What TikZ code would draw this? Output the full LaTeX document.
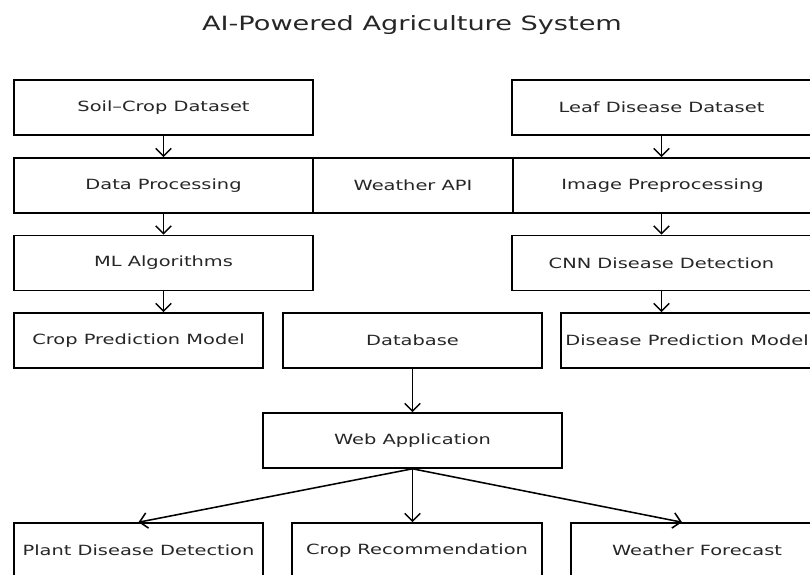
\documentclass[tikz,border=0pt]{standalone}
\usepackage{fontspec}
\setmainfont[FakeStretch=1.38]{DejaVu Sans}
\usetikzlibrary{arrows.meta}

\begin{document}
\begin{tikzpicture}[x=0.025cm, y=-0.025cm,
    box/.style={draw, line width=1.1pt, minimum height=1.375cm, inner sep=0pt,
        font=\fontsize{10}{12}\selectfont, text=black!85},
    arr/.style={-{Straight Barb[length=5.5pt,width=11pt]}, line width=1.1pt}]
    \clip (0,0) rectangle (810,574);
    \node[text=black!85] (title) at (412,25) {\fontsize{14}{17}\selectfont AI-Powered Agriculture System};

    % crop branch
    \node[box, minimum width=7.475cm] (soil) at (163.5,107.5) {Soil–Crop Dataset};
    \node[box, minimum width=7.475cm] (dataproc) at (163.5,185.5) {Data Processing};
    \node[box, minimum width=7.475cm] (ml) at (163.5,263) {ML Algorithms};
    \node[box, minimum width=6.225cm] (croppred) at (138.5,340.5) {Crop Prediction Model};

    % middle
    \node[box, minimum width=5cm] (weatherapi) at (413,185.5) {Weather API};
    \node[box, minimum width=6.475cm] (database) at (412.5,340.5) {Database};

    % disease branch
    \node[box, minimum width=7.475cm] (leaf) at (661.5,107.5) {Leaf Disease Dataset};
    \node[box, minimum width=7.475cm] (imgpre) at (662.5,185.5) {Image Preprocessing};
    \node[box, minimum width=7.475cm] (cnn) at (661.5,263) {CNN Disease Detection};
    \node[box, minimum width=6.3cm] (diseasepred) at (687,340.5) {Disease Prediction Model};

    % application and outputs
    \node[box, minimum width=7.475cm] (webapp) at (412.5,440.5) {Web Application};
    \node[box, minimum width=6.225cm] (plant) at (138.5,550.5) {Plant Disease Detection};
    \node[box, minimum width=6.25cm] (croprec) at (417,550.5) {Crop Recommendation};
    \node[box, minimum width=6.3cm] (forecast) at (697,550.5) {Weather Forecast};

    \draw[arr] (soil) -- (dataproc);
    \draw[arr] (dataproc) -- (ml);
    \draw[arr] (ml.south) -- (ml.south |- croppred.north);
    \draw[arr] (leaf) -- (leaf.south |- imgpre.north);
    \draw[arr] (imgpre.south -| cnn) -- (cnn);
    \draw[arr] (cnn.south) -- (cnn.south |- diseasepred.north);
    \draw[arr] (database) -- (webapp);
    \draw[arr] (webapp.south) -- (plant.north);
    \draw[arr] (webapp.south) -- (webapp.south |- croprec.north);
    \draw[arr] (webapp.south) -- ([xshift=-0.375cm]forecast.north);
\end{tikzpicture}
\end{document}
